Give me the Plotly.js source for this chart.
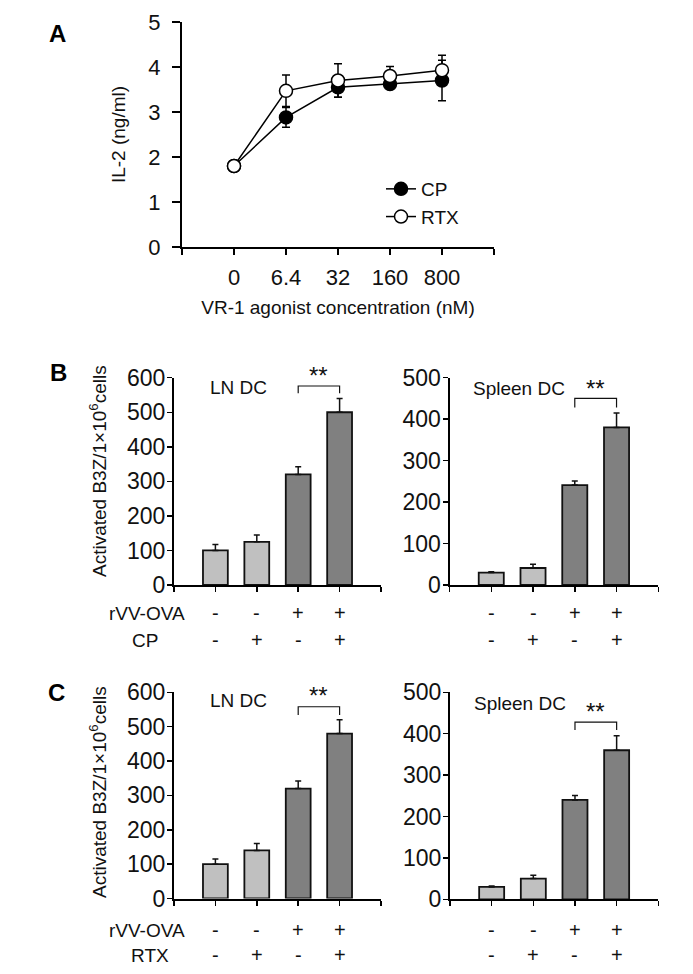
<!DOCTYPE html>
<html>
<head>
<meta charset="utf-8">
<script src="https://cdn.plot.ly/plotly-3.0.1.min.js"></script>
<style>html,body{margin:0;padding:0;background:#fff;}#chart{width:693px;height:974px;}</style>
</head>
<body>
<div id="chart"></div>
<script>
// ---------- DATA ----------
const concLabels = ['0', '6.4', '32', '160', '800'];
const cpMean  = [1.80, 2.88, 3.55, 3.62, 3.70];
const cpErr   = [0.03, 0.22, 0.22, 0.05, 0.45];
const rtxMean = [1.80, 3.47, 3.70, 3.80, 3.93];
const rtxErr  = [0.03, 0.35, 0.37, 0.21, 0.33];

const groups = ['1', '2', '3', '4'];
const rvvRow = ['-', '-', '+', '+'];
const agonistRow = ['-', '+', '-', '+'];

const bLnMean = [100, 125, 320, 500];
const bLnErr  = [17, 20, 22, 40];
const bSpMean = [30, 41, 241, 380];
const bSpErr  = [2, 9, 10, 35];
const cLnMean = [100, 140, 320, 480];
const cLnErr  = [15, 20, 22, 40];
const cSpMean = [30, 50, 240, 360];
const cSpErr  = [2, 8, 11, 35];

// significance brackets: [top, leg bottom, star level]
const bLnSig = [576, 555, 606];
const bSpSig = [450, 428, 475];
const cLnSig = [558, 534, 590];
const cSpSig = [428, 409, 454];

// ---------- LAYOUT HELPERS ----------
const W = 693, H = 974;
const px = v => v / W;
const py = v => 1 - v / H;
const FONT = 'Liberation Sans, Arial, sans-serif';
const idx = groups.map((_, i) => i);
const barColors = ['#c0c0c0', '#c0c0c0', '#808080', '#808080'];

function axisBase(extra) {
  return Object.assign({
    showline: true, linecolor: '#000', linewidth: 2,
    ticks: 'outside', tickcolor: '#000', tickwidth: 1.5,
    showgrid: false, zeroline: false, fixedrange: true,
    tickfont: {family: FONT, size: 23, color: '#111'}
  }, extra);
}

const traces = [];
// Panel A
traces.push({
  type: 'scatter', mode: 'lines+markers', name: 'CP',
  x: concLabels.map((_, i) => i), y: cpMean,
  error_y: {type: 'data', array: cpErr, color: '#000', thickness: 1.5, width: 4},
  line: {color: '#000', width: 1.5},
  marker: {symbol: 'circle', size: 13, color: '#000', line: {color: '#000', width: 1.5}},
  xaxis: 'x', yaxis: 'y'
});
traces.push({
  type: 'scatter', mode: 'lines+markers', name: 'RTX',
  x: concLabels.map((_, i) => i), y: rtxMean,
  error_y: {type: 'data', array: rtxErr, color: '#000', thickness: 1.5, width: 4},
  line: {color: '#000', width: 1.5},
  marker: {symbol: 'circle', size: 13, color: '#fff', line: {color: '#000', width: 1.5}},
  xaxis: 'x', yaxis: 'y'
});

function barTrace(mean, err, ax) {
  return {
    type: 'bar', x: idx, y: mean, width: 0.6, showlegend: false,
    marker: {color: barColors, line: {color: '#111', width: 1.8}},
    error_y: {type: 'data', symmetric: false, array: err, arrayminus: err.map(() => 0),
              color: '#111', thickness: 1.5, width: 3},
    xaxis: 'x' + ax, yaxis: 'y' + ax, hoverinfo: 'y'
  };
}
function bracketTrace(sig, ax) {
  return {
    type: 'scatter', mode: 'lines', showlegend: false, hoverinfo: 'skip',
    x: [2, 2, 3, 3], y: [sig[1], sig[0], sig[0], sig[1]],
    line: {color: '#111', width: 1.2},
    xaxis: 'x' + ax, yaxis: 'y' + ax, cliponaxis: false
  };
}
traces.push(barTrace(bLnMean, bLnErr, 2), bracketTrace(bLnSig, 2));
traces.push(barTrace(bSpMean, bSpErr, 3), bracketTrace(bSpSig, 3));
traces.push(barTrace(cLnMean, cLnErr, 4), bracketTrace(cLnSig, 4));
traces.push(barTrace(cSpMean, cSpErr, 5), bracketTrace(cSpSig, 5));

const barX = {tickvals: [-1, 0, 1, 2, 3, 4], showticklabels: false, ticklen: 5, range: [-1, 4]};
const barY = {dtick: 100, ticklen: 5, ticklabelstandoff: -3};

const layout = {
  width: W, height: H,
  margin: {l: 0, r: 0, t: 0, b: 0},
  paper_bgcolor: '#fff', plot_bgcolor: 'rgba(0,0,0,0)',
  font: {family: FONT, size: 19, color: '#111'},
  showlegend: true,
  legend: {x: px(381), y: py(170), xanchor: 'left', yanchor: 'top',
           bgcolor: 'rgba(0,0,0,0)', font: {family: FONT, size: 19, color: '#111'},
           tracegroupgap: 0},
  xaxis: axisBase({domain: [px(182), px(494)], range: [-1, 5], anchor: 'y',
    tickvals: [0, 1, 2, 3, 4], ticktext: concLabels, ticklen: 6, ticklabelstandoff: 4,
    tickfont: {family: FONT, size: 22, color: '#111'},
    minor: {tickvals: [-1, 5], ticks: 'outside', ticklen: 6, tickwidth: 1.5, tickcolor: '#000', showgrid: false},
    title: {text: 'VR-1 agonist concentration (nM)', font: {family: FONT, size: 19, color: '#111'}, standoff: 11}}),
  yaxis: axisBase({domain: [py(247), py(22)], range: [0, 5], dtick: 1, ticklen: 8, anchor: 'x',
    ticklabelstandoff: 7, tickfont: {family: FONT, size: 22, color: '#111'},
    title: {text: 'IL-2 (ng/ml)', font: {family: FONT, size: 19, color: '#111'}, standoff: 18}}),
  xaxis2: axisBase(Object.assign({domain: [px(174), px(381)], anchor: 'y2'}, barX)),
  yaxis2: axisBase(Object.assign({domain: [py(585), py(377.7)], range: [0, 600], anchor: 'x2'}, barY)),
  xaxis3: axisBase(Object.assign({domain: [px(449.5), px(658.3)], anchor: 'y3'}, barX)),
  yaxis3: axisBase(Object.assign({domain: [py(585), py(377.7)], range: [0, 500], anchor: 'x3'}, barY)),
  xaxis4: axisBase(Object.assign({domain: [px(174), px(381)], anchor: 'y4'}, barX)),
  yaxis4: axisBase(Object.assign({domain: [py(898.5), py(692.3)], range: [0, 600], anchor: 'x4'}, barY)),
  xaxis5: axisBase(Object.assign({domain: [px(450), px(658.3)], anchor: 'y5'}, barX)),
  yaxis5: axisBase(Object.assign({domain: [py(899.3), py(692.3)], range: [0, 500], anchor: 'x5'}, barY)),
  annotations: []
};

const ann = layout.annotations;
function txt(text, x, y, opts) {
  ann.push(Object.assign({text: text, x: x, y: y, xref: 'paper', yref: 'paper',
    showarrow: false, xanchor: 'center', yanchor: 'middle',
    font: {family: FONT, size: 19, color: '#111'}}, opts || {}));
}
// map a data value of a y axis to paper fraction (annotations above the axis range stay visible)
function yPaper(ax, v) {
  const a = layout['yaxis' + ax];
  return a.domain[0] + (v - a.range[0]) / (a.range[1] - a.range[0]) * (a.domain[1] - a.domain[0]);
}
// panel letters
txt('<b>A</b>', px(57), py(33), {font: {family: FONT, size: 24, color: '#000'}});
txt('<b>B</b>', px(58), py(372), {font: {family: FONT, size: 24, color: '#000'}});
txt('<b>C</b>', px(56), py(692), {font: {family: FONT, size: 24, color: '#000'}});
// y titles for bar panels
const yTitle = 'Activated B3Z/1\u00d710<sup>6</sup>cells';
txt(yTitle, px(98), py(471), {textangle: -90});
txt(yTitle, px(98), py(792), {textangle: -90});
// panel sub-titles and stars
function inAxis(text, ax, x, y, size) {
  ann.push({text: text, x: x, y: yPaper(ax, y), xref: 'x' + ax, yref: 'paper', showarrow: false,
    xanchor: 'center', yanchor: 'middle', font: {family: FONT, size: size || 19, color: '#111'}});
}
inAxis('LN DC', 2, 0.55, 573);
inAxis('Spleen DC', 3, 0.67, 475);
inAxis('LN DC', 4, 0.55, 575);
inAxis('Spleen DC', 5, 0.67, 473);
inAxis('**', 2, 2.5, bLnSig[2], 24);
inAxis('**', 3, 2.5, bSpSig[2], 24);
inAxis('**', 4, 2.5, cLnSig[2], 24);
inAxis('**', 5, 2.5, cSpSig[2], 24);
// treatment rows
function row(vals, ax, yPix) {
  vals.forEach((v, i) => ann.push({text: v, x: i, y: py(yPix), xref: 'x' + ax, yref: 'paper',
    showarrow: false, xanchor: 'center', yanchor: 'middle',
    font: {family: FONT, size: 20, color: '#111'}}));
}
row(rvvRow, 2, 613); row(agonistRow, 2, 640);
row(rvvRow, 3, 613); row(agonistRow, 3, 640);
row(rvvRow, 4, 930); row(agonistRow, 4, 955);
row(rvvRow, 5, 930); row(agonistRow, 5, 955);
txt('rVV-OVA', px(187), py(613), {xanchor: 'right'});
txt('CP', px(145), py(640));
txt('rVV-OVA', px(187), py(930), {xanchor: 'right'});
txt('RTX', px(150), py(955));

Plotly.newPlot('chart', traces, layout, {staticPlot: true, displayModeBar: false});
</script>
</body>
</html>
